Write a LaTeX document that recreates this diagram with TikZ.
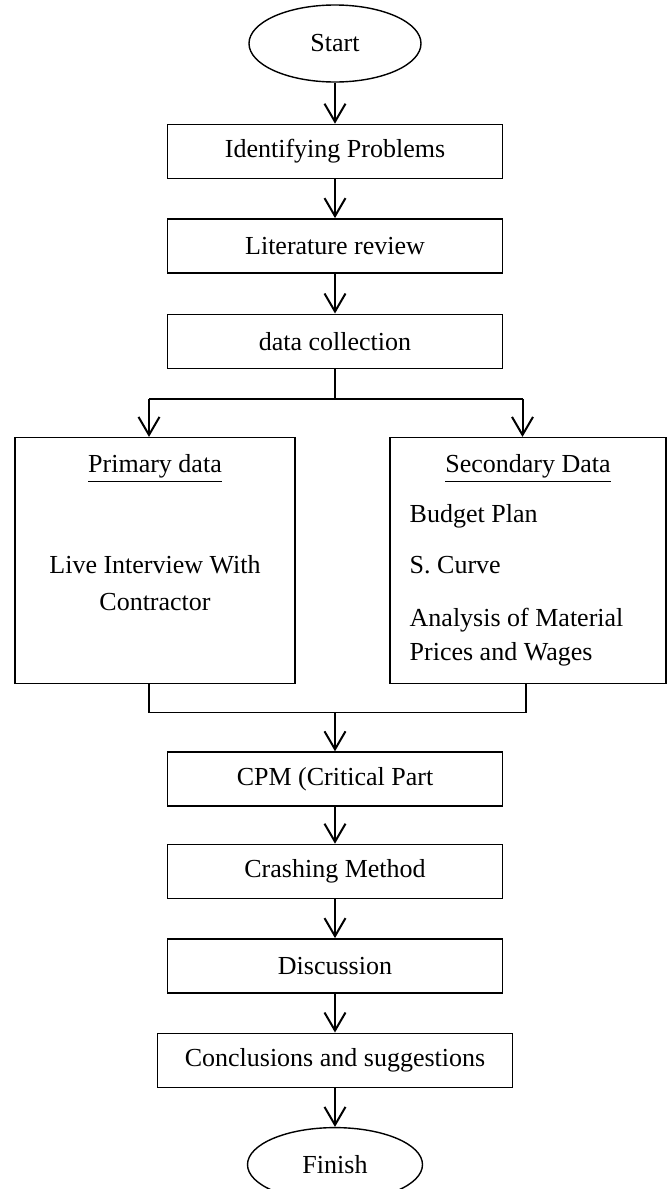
\documentclass[tikz,border=0pt]{standalone}
\usepackage{fontspec}
\setmainfont{Liberation Serif}
\usetikzlibrary{arrows.meta,positioning,shapes.geometric}

\begin{document}
\begin{tikzpicture}[>={Straight Barb[length=9pt,width=10.5pt]},font=\fontsize{13}{17.5}\selectfont,
box/.style={draw,line width=.7pt,minimum width=167.5pt,minimum height=27pt,inner sep=0pt},
term/.style={draw,ellipse,line width=.7pt,minimum width=86pt,minimum height=38.5pt,inner sep=0pt},
side/.style={draw,line width=.7pt,minimum height=123pt,inner sep=0pt},
txt/.style={inner sep=0pt},
arr/.style={->,line width=1pt},
ln/.style={line width=.8pt}]
\useasboundingbox (0,0) rectangle (334.5pt,-594.5pt);
\node[term] (start) at (167.5pt,-21.75pt) {Start};
\node[box,below=20.5pt of start] (ip) {Identifying Problems};
\node[box,below=19.5pt of ip] (lr) {Literature review};
\node[box,below=20pt of lr] (dc) {data collection};
\node[side,minimum width=140pt,below=34pt of dc,xshift=-90pt] (pri) {};
\node[side,minimum width=138pt,below=34pt of dc,xshift=96.5pt] (sec) {};
% text inside the two data boxes
\node[txt,anchor=base] (prih) at ([yshift=-18pt]pri.north) {\underline{Primary data}};
\node[txt,anchor=base] (liv) at ([yshift=-68.5pt]pri.north) {Live Interview With};
\node[txt,anchor=base] (con) at ([yshift=-87pt]pri.north) {Contractor};
\node[txt,anchor=base] (sech) at ([yshift=-18pt]sec.north) {\underline{Secondary Data}};
\node[txt,anchor=base west] (bp) at ([xshift=10pt,yshift=-43pt]sec.north west) {Budget Plan};
\node[txt,anchor=base west] (sc) at ([xshift=10pt,yshift=-68.5pt]sec.north west) {S. Curve};
\node[txt,anchor=base west] (am) at ([xshift=10pt,yshift=-95pt]sec.north west) {Analysis of Material};
\node[txt,anchor=base west] (pw) at ([xshift=10pt,yshift=-112pt]sec.north west) {Prices and Wages};
% split and merge
\coordinate[below=15pt of dc] (sp);
\coordinate (pl) at ([xshift=-3pt]pri.north);
\coordinate (pr) at ([xshift=-2.75pt]sec.north);
\coordinate (ql) at ([xshift=-3pt]pri.south);
\coordinate (qr) at ([xshift=-1pt]sec.south);
\coordinate[below=14pt of ql] (ml);
\coordinate (mc) at (ml -| dc);
\node[box,below=19.5pt of mc] (cpm) {CPM (Critical Part};
\node[box,below=18.5pt of cpm] (cm) {Crashing Method};
\node[box,below=19.5pt of cm] (ds) {Discussion};
\node[box,minimum width=177.5pt,below=19.5pt of ds] (cs) {Conclusions and suggestions};
\node[term,minimum width=87.5pt,minimum height=37pt,below=19.5pt of cs] (fin) {Finish};
\draw[arr] (start)--(ip);\draw[arr] (ip)--(lr);\draw[arr] (lr)--(dc);
\draw[ln] (dc)--(sp);\draw[ln] (pl |- sp)--(pr |- sp);
\draw[arr] (pl |- sp)--(pl);\draw[arr] (pr |- sp)--(pr);
\draw[ln] (ql)--(ml)--(ml -| qr)--(qr);
\draw[arr] (mc)--(cpm);\draw[arr] (cpm)--(cm);\draw[arr] (cm)--(ds);
\draw[arr] (ds)--(cs);\draw[arr] (cs)--(fin);
\end{tikzpicture}
\end{document}
